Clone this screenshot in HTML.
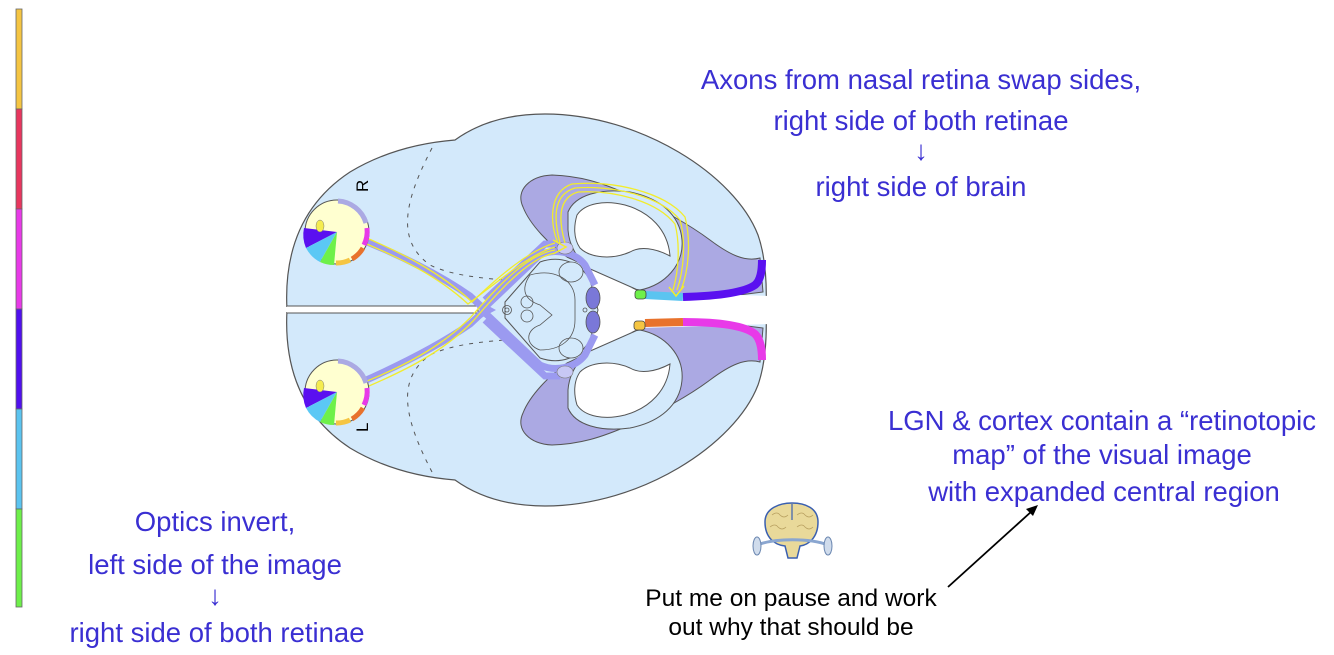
<!DOCTYPE html>
<html><head><meta charset="utf-8"><style>
html,body{margin:0;padding:0;background:#fff;}
svg{display:block;}
text{font-family:"Liberation Sans",Arial,sans-serif;}
.b{fill:#3a2fd2;font-size:27.5px;text-anchor:middle;}
.k{fill:#000;font-size:24.5px;text-anchor:middle;}
</style></head><body>
<svg width="1334" height="655" viewBox="0 0 1334 655" xmlns="http://www.w3.org/2000/svg">
<defs>
<g id="hemi">
  <path d="M287,310 C284,255 300,205 350,172 C390,148 430,142 455,140 C480,122 510,114 545,114 C640,114 735,175 758,235 C766,258 767,285 766,310 Z" fill="#d3e9fb" stroke="#555" stroke-width="1.2"/>
</g>
<g id="purp">
  <path d="M523,207 C515,190 530,176 552,175 C580,176 600,182 630,195 C660,208 690,225 710,240 C730,255 745,262 760,258 L763,292 L683,302 L643,298 L637,290 C615,280 590,268 567,257 C550,245 530,225 523,207 Z" fill="#aba9e3" stroke="#555" stroke-width="1"/>
  <path d="M568,212 C575,195 600,188 630,192 C660,198 680,215 682,240 C684,265 665,285 640,290 C600,285 570,260 568,230 Z" fill="#d3e9fb" stroke="#555" stroke-width="1"/>
  <path d="M577,215 C585,203 605,200 625,205 C650,212 668,230 670,256 C655,248 640,246 630,252 C612,260 590,258 580,248 C573,238 574,225 577,215 Z" fill="#fff" stroke="#555" stroke-width="1"/>
</g>
</defs>

<!-- left color bar -->
<rect x="16" y="9" width="6" height="100" fill="#f5c542" stroke="#666" stroke-width="0.8"/>
<rect x="16" y="109" width="6" height="100" fill="#e8365e" stroke="#666" stroke-width="0.8"/>
<rect x="16" y="209" width="6" height="100" fill="#e83ae8" stroke="#666" stroke-width="0.8"/>
<rect x="16" y="309" width="6" height="100" fill="#5010ee" stroke="#666" stroke-width="0.8"/>
<rect x="16" y="409" width="6" height="100" fill="#5bc4f0" stroke="#666" stroke-width="0.8"/>
<rect x="16" y="509" width="6" height="98" fill="#6ef04a" stroke="#666" stroke-width="0.8"/>

<!-- brain -->
<use href="#hemi"/>
<use href="#hemi" transform="translate(0,620) scale(1,-1)"/>
<rect x="286" y="309" width="470" height="3" fill="#d3e9fb"/>
<path d="M287,306 L478,306 L478,313 L287,313" fill="#fff" stroke="#555" stroke-width="1"/>
<rect x="284" y="307" width="6" height="5" fill="#fff"/>
<path d="M432,148 C405,200 395,240 430,265 C450,275 480,278 505,280" fill="none" stroke="#555" stroke-dasharray="4,6" stroke-width="1"/>
<path d="M432,472 C405,420 395,380 430,355 C450,345 480,342 505,340" fill="none" stroke="#555" stroke-dasharray="4,6" stroke-width="1"/>

<use href="#purp"/>
<use href="#purp" transform="translate(0,620) scale(1,-1)"/>

<path d="M588,268 L640,292 L770,296 L770,324 L640,328 L588,352 Z" fill="#fff"/>
<path d="M588,268 L640,291" stroke="#555" fill="none"/>
<path d="M588,352 L640,329" stroke="#555" fill="none"/>

<path d="M645,295 L683,297" stroke="#5bc4f0" stroke-width="8" fill="none"/>
<path d="M683,297 C720,296 745,292 755,285 C761,280 762,270 762,260" stroke="#5a10f0" stroke-width="8" fill="none"/>
<rect x="635" y="290" width="11" height="9" rx="3" fill="#6ef04a" stroke="#444" stroke-width="0.8"/>
<path d="M645,323 L683,322" stroke="#e8722c" stroke-width="8" fill="none"/>
<path d="M683,322 C720,322 745,326 755,334 C761,340 762,350 762,360" stroke="#e83ae8" stroke-width="8" fill="none"/>
<rect x="634" y="321" width="11" height="9" rx="3" fill="#f5c542" stroke="#444" stroke-width="0.8"/>

<!-- midbrain -->
<path d="M540,262 C560,255 580,262 590,280 L598,310 L590,340 C580,358 560,365 540,358 L505,318 L505,302 Z" fill="#d3e9fb" stroke="#555" stroke-width="1"/>
<path d="M482,310 L540,255 C555,248 575,252 585,265 L595,285" fill="none" stroke="#9b9af0" stroke-width="7"/>
<path d="M482,310 L540,365 C555,372 575,368 585,355 L595,335" fill="none" stroke="#9b9af0" stroke-width="7"/>
<path d="M485,300 L545,244 L560,244" fill="none" stroke="#9b9af0" stroke-width="7"/>
<path d="M485,320 L545,376 L560,376" fill="none" stroke="#9b9af0" stroke-width="7"/>
<ellipse cx="593" cy="298" rx="7" ry="11" fill="#7a78d8" stroke="#555" stroke-width="0.8"/>
<ellipse cx="593" cy="322" rx="7" ry="11" fill="#7a78d8" stroke="#555" stroke-width="0.8"/>
<ellipse cx="565" cy="248" rx="8" ry="6" fill="#c8c8f5" stroke="#777" stroke-width="0.6"/>
<ellipse cx="565" cy="372" rx="8" ry="6" fill="#c8c8f5" stroke="#777" stroke-width="0.6"/>
<ellipse cx="571" cy="272" rx="12" ry="10" fill="#d3e9fb" stroke="#555" stroke-width="0.8"/>
<ellipse cx="571" cy="348" rx="12" ry="10" fill="#d3e9fb" stroke="#555" stroke-width="0.8"/>
<path d="M530,275 C520,290 525,300 540,305 L552,315 L540,325 C525,330 525,345 540,350 C560,350 575,340 575,320 L575,300 C575,280 555,268 530,275 Z" fill="none" stroke="#555" stroke-width="0.8"/>
<circle cx="527" cy="302" r="6" fill="none" stroke="#555" stroke-width="0.8"/>
<circle cx="527" cy="316" r="6" fill="none" stroke="#555" stroke-width="0.8"/>
<circle cx="507" cy="310" r="4.5" fill="none" stroke="#555" stroke-width="0.8"/>
<circle cx="507" cy="310" r="2" fill="none" stroke="#555" stroke-width="0.8"/>
<circle cx="585" cy="310" r="2" fill="none" stroke="#555" stroke-width="0.8"/>

<!-- optic nerves -->
<path d="M362,240 C400,255 440,275 470,296 L485,310 L470,324 C440,345 400,365 362,382" fill="none" stroke="#9b9af0" stroke-width="7"/>
<path d="M470,296 L485,310 L470,324 L496,310 Z" fill="#9b9af0"/>

<g fill="none" stroke="#f2ec2c" stroke-width="1.3">
<path d="M362,236 C400,252 440,272 472,302 C500,275 530,250 555,243"/>
<path d="M362,242 C400,258 438,276 468,304 C500,280 530,254 555,247"/>
<path d="M362,383 C400,368 440,348 470,318 C495,290 525,255 555,250"/>
<path d="M362,389 C402,372 444,352 474,320 C498,292 528,258 555,253"/>
<path d="M560,243 C554,220 552,195 575,188 C610,185 660,195 680,220 C686,240 684,270 677,290"/>
<path d="M565,243 C559,222 557,198 578,192 C612,190 656,200 675,224 C680,243 679,270 673,290"/>
<path d="M558,243 C550,225 548,192 572,184 C612,180 665,192 685,217 C691,240 689,270 681,290"/>
</g>
<path d="M553,240 L566,247 L553,254" fill="none" stroke="#f2ec2c" stroke-width="1.5"/>
<path d="M669,287 L676,296 L684,286" fill="none" stroke="#f2ec2c" stroke-width="1.5"/>

<!-- eyes -->
<g id="eye">
<circle cx="337" cy="232" r="32" fill="#ffffd0" stroke="#555" stroke-width="1"/>
<path d="M337,232 L304,228 A33,33 0 0 0 306,248 Z" fill="#5a10f0"/>
<path d="M337,232 L306,248 A33,33 0 0 0 320,262 Z" fill="#5bc8f5"/>
<path d="M337,232 L320,262 A33,33 0 0 0 334,265 Z" fill="#6ef04a"/>
<ellipse cx="320" cy="226" rx="4" ry="6" fill="#f5ec50" stroke="#777" stroke-width="0.5"/>
<path d="M338,201 A31,31 0 0 1 366,223" fill="none" stroke="#aba9e3" stroke-width="5"/>
<path d="M367,228 A31,31 0 0 1 364,245" fill="none" stroke="#e83ae8" stroke-width="5"/>
<path d="M363,248 A31,31 0 0 1 352,259" fill="none" stroke="#e8722c" stroke-width="5"/>
<path d="M350,260 A31,31 0 0 1 336,263" fill="none" stroke="#f5c542" stroke-width="5"/>
</g>
<use href="#eye" transform="translate(0,160)"/>
<text x="0" y="0" font-size="17" transform="translate(368,192) rotate(-90)">R</text>
<text x="0" y="0" font-size="17" transform="translate(368,432) rotate(-90)">L</text>

<!-- text -->
<text class="b" x="921" y="89">Axons from nasal retina swap sides,</text>
<text class="b" x="921" y="130">right side of both retinae</text>
<text class="b" x="921" y="160">↓</text>
<text class="b" x="921" y="196">right side of brain</text>

<text class="b" x="215" y="531">Optics invert,</text>
<text class="b" x="215" y="574">left side of the image</text>
<text class="b" x="215" y="605">↓</text>
<text class="b" x="217" y="642">right side of both retinae</text>

<text class="b" x="1102" y="430">LGN &amp; cortex contain a “retinotopic</text>
<text class="b" x="1102" y="464">map” of the visual image</text>
<text class="b" x="1104" y="501">with expanded central region</text>

<text class="k" x="791" y="606">Put me on pause and work</text>
<text class="k" x="791" y="635">out why that should be</text>
<line x1="948" y1="587" x2="1032" y2="511" stroke="#000" stroke-width="1.8"/>
<path d="M1038,505 L1026,509 L1033,516 Z" fill="#000"/>

<!-- brain icon -->
<g>
<path d="M765,522 C765,508 780,503 792,503 C805,503 818,508 818,522 C818,538 808,545 800,546 L797,558 L788,558 L785,546 C775,545 765,538 765,522 Z" fill="#e9d99a" stroke="#3a5fb0" stroke-width="1.5"/>
<path d="M792,504 L792,520" stroke="#3a5fb0" stroke-width="1.2"/>
<path d="M772,515 q5,-4 8,0 q4,4 8,0 M797,515 q5,-4 8,0 q4,4 8,0 M770,527 q5,-4 8,0 q4,4 8,0 M797,527 q5,-4 8,0 q4,4 8,0" fill="none" stroke="#b8a060" stroke-width="0.8"/>
<path d="M757,545 C775,538 810,538 828,545" fill="none" stroke="#8aa6d0" stroke-width="3"/>
<ellipse cx="757" cy="546" rx="4" ry="9" fill="#d0dcec" stroke="#6a86b0"/>
<ellipse cx="828" cy="546" rx="4" ry="9" fill="#d0dcec" stroke="#6a86b0"/>
</g>
</svg>
</body></html>
